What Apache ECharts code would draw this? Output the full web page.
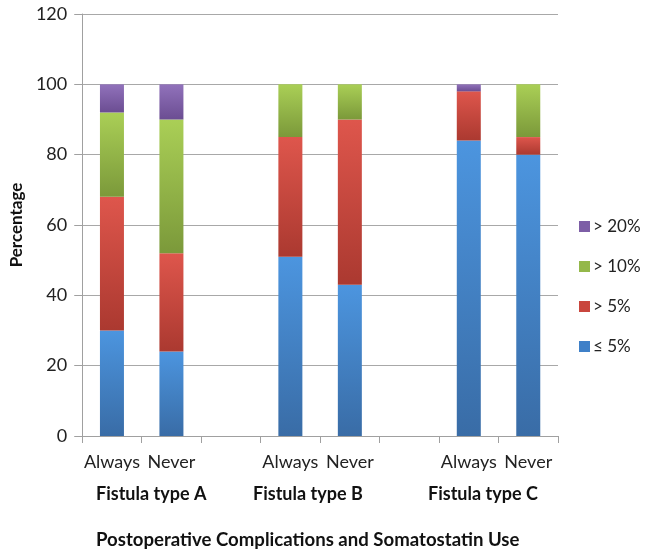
<!DOCTYPE html>
<html>
<head>
<meta charset="utf-8">
<script src="https://cdn.jsdelivr.net/npm/echarts@6/dist/echarts.min.js"></script>
<style>html,body{margin:0;padding:0;background:#fff}#c{width:646px;height:551px}</style>
</head>
<body>
<div id="c"></div>
<script>
var categories = ['Always', 'Never', '', 'Always', 'Never', '', 'Always', 'Never'];
var groupLabels = ['Fistula type A', 'Fistula type B', 'Fistula type C'];
var seriesNames = ['≤ 5%', '> 5%', '> 10%', '> 20%'];
var le5  = [30, 24, null, 51, 43, null, 84, 80];
var gt5  = [38, 28, null, 34, 47, null, 14, 5];
var gt10 = [24, 38, null, 15, 10, null, 0, 15];
var gt20 = [8, 10, null, 0, 0, null, 2, 0];
var yTicks = [0, 20, 40, 60, 80, 100, 120];
var xTitle = 'Postoperative Complications and Somatostatin Use';
var yTitle = 'Percentage';

var FONT = 'Lato';
function grad(top, bottom) {
  return new echarts.graphic.LinearGradient(0, 0, 0, 1, [
    {offset: 0, color: top}, {offset: 1, color: bottom}
  ]);
}
var fills = [
  grad('#4c95df', '#396ca6'),
  grad('#de564c', '#ab3930'),
  grad('#aacf56', '#7b993a'),
  grad('#9172bb', '#6b4d92')
];
var legendColors = ['#3f80c8', '#c9463d', '#94b84a', '#7d5ea6'];
var values = [le5, gt5, gt10, gt20];

var chart = echarts.init(document.getElementById('c'), null, {renderer: 'canvas'});
chart.setOption({
  animation: false,
  grid: {left: 77, right: 88, top: 14, bottom: 115},
  legend: {
    data: seriesNames.slice().reverse().map(function (n) {
      return {name: n, itemStyle: {color: legendColors[seriesNames.indexOf(n)]}};
    }),
    orient: 'vertical',
    left: 574,
    top: 213,
    itemWidth: 11,
    itemHeight: 11,
    itemGap: 23,
    icon: 'rect',
    textStyle: {fontFamily: FONT, fontSize: 17, color: '#222', padding: [0, 0, 0, -2]}
  },
  xAxis: {
    type: 'category',
    data: categories,
    axisLine: {lineStyle: {color: '#a0a0a0', width: 1}},
    axisTick: {show: true, length: 7, lineStyle: {color: '#a0a0a0'}},
    axisLabel: {fontFamily: FONT, fontSize: 18, color: '#222', margin: 17, interval: 0}
  },
  yAxis: {
    type: 'value',
    min: yTicks[0],
    max: yTicks[yTicks.length - 1],
    interval: 20,
    name: yTitle,
    nameLocation: 'middle',
    nameGap: 56,
    nameTextStyle: {fontFamily: FONT, fontSize: 17, fontWeight: 'bold', color: '#111'},
    axisLine: {show: true, lineStyle: {color: '#a0a0a0', width: 1}},
    axisTick: {show: true, length: 8, lineStyle: {color: '#a0a0a0'}},
    axisLabel: {fontFamily: FONT, fontSize: 18, color: '#222', margin: 15},
    splitLine: {lineStyle: {color: '#a8a8a8', width: 1.2}}
  },
  series: seriesNames.map(function (n, i) {
    return {
      name: n,
      type: 'bar',
      stack: 'total',
      barWidth: 24,
      data: values[i],
      itemStyle: {color: fills[i]}
    };
  }),
  graphic: [
    {type: 'text', left: 96, top: 485, style: {text: groupLabels[0], font: 'bold 18px ' + FONT, fill: '#111'}},
    {type: 'text', left: 253, top: 485, style: {text: groupLabels[1], font: 'bold 18px ' + FONT, fill: '#111'}},
    {type: 'text', left: 428, top: 485, style: {text: groupLabels[2], font: 'bold 18px ' + FONT, fill: '#111'}},
    {type: 'text', left: 96, top: 530, style: {text: xTitle, font: 'bold 18.6px ' + FONT, fill: '#111'}}
  ]
});
</script>
</body>
</html>
